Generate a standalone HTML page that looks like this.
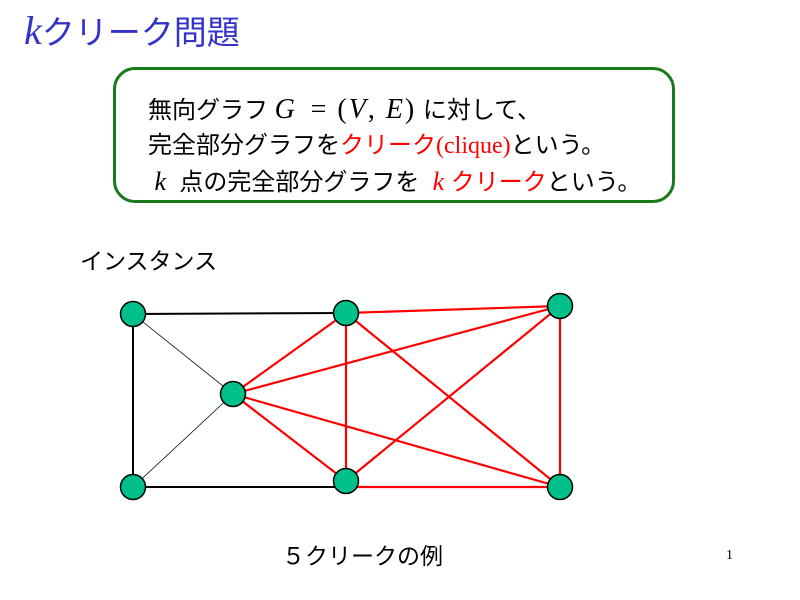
<!DOCTYPE html>
<html><head><meta charset="utf-8"><style>
body{margin:0;width:800px;height:600px;background:#fff;overflow:hidden;position:relative;font-family:"Liberation Sans","Noto Sans CJK JP",sans-serif}
.t{position:absolute;white-space:nowrap}
.m{font-family:"Liberation Serif",serif;font-style:italic}
.r{color:#f00}
</style></head><body>
<div class="t" style="left:24px;top:6px;font-size:33px;color:#3333cc"><span class="m" style="font-size:40px">k</span>クリーク問題</div>
<div style="position:absolute;left:113px;top:67px;width:556px;height:130px;border:3px solid #1a7a1a;border-radius:22px"></div>
<div class="t" style="left:148px;top:92px;font-size:24px;line-height:35px">
無向グラフ <span class="m" style="font-size:28px">G</span> <span style="font-family:'Liberation Serif',serif;font-size:28px;letter-spacing:2px">&nbsp;= (<i>V</i>, <i>E</i>)</span> に対して、<br>
完全部分グラフを<span class="r">クリーク</span><span class="r" style="font-family:'Liberation Serif',serif">(clique)</span>という。<br>
<span class="m" style="font-size:26px">&nbsp;k</span> &nbsp;点の完全部分グラフを <span class="m r" style="font-size:26px">&nbsp;k</span> <span class="r">クリーク</span>という。</div>
<div class="t" style="left:80px;top:242px;font-size:23px">インスタンス</div>
<div class="t" style="left:282px;top:537px;font-size:23px">５クリークの例</div>
<div class="t" style="left:726px;top:548px;font-size:14px;font-family:'Liberation Serif',serif">1</div>
<svg style="position:absolute;left:0;top:0" width="800" height="600">
<g stroke="#000" stroke-width="2">
<line x1="133" y1="314" x2="346" y2="313"/><line x1="133" y1="314" x2="133" y2="487"/><line x1="133" y1="487" x2="346" y2="487"/>
</g>
<g stroke="#000" stroke-width="0.8">
<line x1="133" y1="314" x2="233" y2="394"/><line x1="233" y1="394" x2="133" y2="487"/>
</g>
<g stroke="#f00" stroke-width="2.2">
<line x1="346" y1="313" x2="560" y2="306"/><line x1="560" y1="306" x2="560" y2="487"/><line x1="346" y1="313" x2="346" y2="481"/>
<line x1="233" y1="394" x2="346" y2="313"/><line x1="233" y1="394" x2="560" y2="306"/><line x1="233" y1="394" x2="346" y2="481"/>
<line x1="233" y1="394" x2="560" y2="487"/><line x1="346" y1="313" x2="560" y2="487"/><line x1="346" y1="481" x2="560" y2="306"/>
<line x1="346" y1="487" x2="560" y2="487"/>
</g>
<g fill="#00c08a" stroke="#000" stroke-width="1.5">
<circle cx="133" cy="314" r="12.5"/><circle cx="346" cy="313" r="12.5"/><circle cx="560" cy="306" r="12.5"/>
<circle cx="233" cy="394" r="12.5"/><circle cx="133" cy="487" r="12.5"/><circle cx="346" cy="481" r="12.5"/><circle cx="560" cy="487" r="12.5"/>
</g>
</svg>
</body></html>
